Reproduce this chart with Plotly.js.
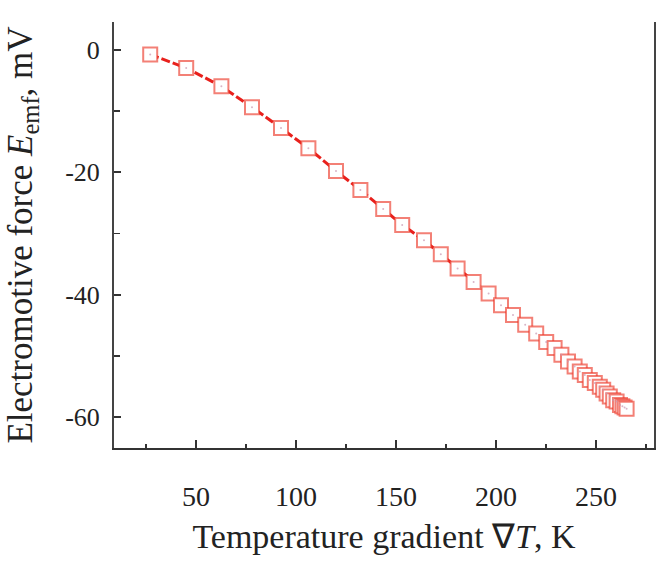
<!DOCTYPE html>
<html>
<head>
<meta charset="utf-8">
<script src="https://cdn.plot.ly/plotly-3.0.1.min.js"></script>
<style>
html,body{margin:0;padding:0;background:#fff;}
#chart{width:656px;height:563px;}
</style>
</head>
<body>
<div id="chart"></div>
<script>
// Temperature gradient (K)
var gradT = [27.1, 45.1, 62.7, 78.0, 92.5, 106.2, 120.0, 132.2, 143.6, 153.1,
             164.0, 172.4, 180.8, 188.8, 196.3, 202.5, 208.5, 214.6, 220.1, 225.1,
             229.3, 232.7, 236.0, 239.3, 241.9, 244.4, 246.9, 249.4, 251.9, 253.6,
             255.3, 256.9, 258.6, 260.3, 262.0, 263.2, 264.3, 265.3];
// Electromotive force (mV)
var emf = [-0.8, -3.0, -6.0, -9.4, -12.8, -16.1, -19.8, -22.9, -26.0, -28.6,
           -31.1, -33.4, -35.7, -37.9, -39.8, -41.7, -43.3, -44.9, -46.3, -47.7,
           -48.7, -49.8, -50.9, -51.7, -52.5, -53.1, -53.9, -54.4, -55.0, -55.5,
           -56.1, -56.6, -57.2, -57.4, -58.0, -58.2, -58.4, -58.6];
var xTicks = [50, 100, 150, 200, 250];
var xTickText = ['50', '100', '150', '200', '250'];
var yTicks = [-60, -40, -20, 0];
var yTickText = ['-60', '-40', '-20', '0'];

var traces = [
  {
    x: gradT, y: emf, type: 'scatter', mode: 'lines+markers',
    line: {color: 'rgb(232,32,28)', width: 3, dash: '9px,3px'},
    marker: {symbol: 'square', size: 14, color: '#ffffff',
             line: {color: 'rgba(236,60,45,0.65)', width: 2}},
    hoverinfo: 'skip', showlegend: false
  },
  {
    x: gradT, y: emf, type: 'scatter', mode: 'markers',
    marker: {symbol: 'circle', size: 2, color: 'rgba(200,150,175,0.7)'},
    hoverinfo: 'skip', showlegend: false
  }
];

var serif = 'Liberation Serif, Times New Roman, serif';
var layout = {
  width: 656, height: 563,
  margin: {l: 114, r: 2, t: 22, b: 115},
  paper_bgcolor: '#fff', plot_bgcolor: '#fff',
  font: {family: serif, color: '#222'},
  xaxis: {
    range: [9, 279], tickvals: xTicks, ticktext: xTickText,
    ticks: 'inside', ticklen: 8, tickwidth: 2,
    tickcolor: '#333', showline: true, linecolor: '#333', linewidth: 2,
    mirror: false, showgrid: false, zeroline: false,
    tickfont: {family: serif, size: 28, color: '#222'},
    ticklabelstandoff: 22,
    minor: {dtick: 25, tick0: 0, ticks: 'inside', ticklen: 4, tickwidth: 1.5, tickcolor: '#333', showgrid: false},
    title: {text: 'Temperature gradient \u2207<i>T</i>, K', font: {family: serif, size: 34, color: '#222'}, standoff: 14}
  },
  yaxis: {
    range: [-65, 4.5], tickvals: yTicks, ticktext: yTickText,
    ticks: 'inside', ticklen: 7, tickwidth: 2,
    tickcolor: '#333', showline: true, linecolor: '#444', linewidth: 2,
    mirror: true, showgrid: false, zeroline: false,
    tickfont: {family: serif, size: 26, color: '#222'},
    ticklabelstandoff: 7,
    minor: {dtick: 10, tick0: 0, ticks: 'inside', ticklen: 6, tickwidth: 1.5, tickcolor: '#333', showgrid: false},
    title: {text: 'Electromotive force <i>E</i><sub>emf</sub>, mV', font: {family: serif, size: 35, color: '#222'}, standoff: 22}
  }
};

Plotly.newPlot('chart', traces, layout, {displayModeBar: false, staticPlot: true});
</script>
</body>
</html>
